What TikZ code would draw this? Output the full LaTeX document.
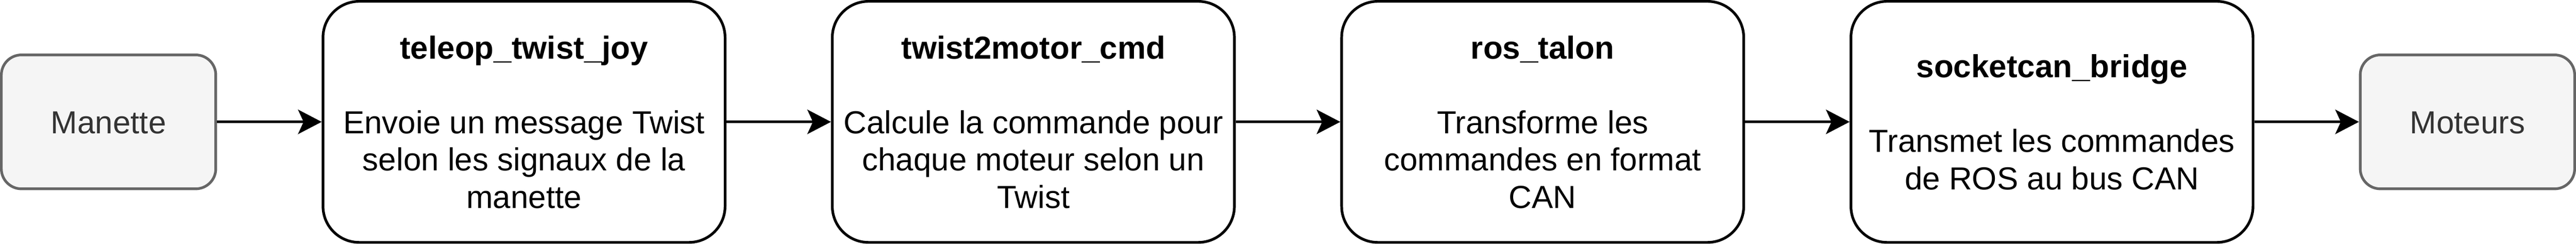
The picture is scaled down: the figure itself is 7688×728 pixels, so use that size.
\documentclass[tikz,border=0pt]{standalone}
\usepackage{fontspec}
\setmainfont{Liberation Sans}
\usetikzlibrary{arrows.meta}
\definecolor{boxfill}{HTML}{F5F5F5}
\definecolor{boxline}{HTML}{666666}
\definecolor{boxtext}{HTML}{333333}
\newcommand\LS{\rule[-5.3pt]{0pt}{27.9pt}}
\tikzset{
  txt/.style={font=\fontsize{23.8pt}{27.9pt}\selectfont, align=center, inner sep=0pt},
  procbox/.style={txt, draw=black, fill=white, line width=2pt, rounded corners=27pt,
    minimum width=300pt, minimum height=180pt},
  endbox/.style={txt, draw=boxline, fill=boxfill, text=boxtext, line width=2pt,
    rounded corners=15pt, minimum width=160pt, minimum height=100pt},
  flow/.style={draw=black, line width=2pt,
    -{Stealth[length=17.75pt, width=18.5pt, inset=4.25pt, line width=0pt]}}
}
\begin{document}
\begin{tikzpicture}[x=0.25pt, y=-0.25pt]
\useasboundingbox (0,0) rectangle (7688,728);
\node[endbox] (manette) at (324,364) {\LS Manette};
\node[procbox] (teleop) at (1564,364)
  {\LS\textbf{teleop\_twist\_joy}\\ \LS\\ \LS Envoie un message Twist\\ \LS selon les signaux de la\\ \LS manette};
\node[procbox] (twist) at (3084,364)
  {\LS\textbf{twist2motor\_cmd}\\ \LS\\ \LS Calcule la commande pour\\ \LS chaque moteur selon un\\ \LS Twist};
\node[procbox] (talon) at (4604,364)
  {\LS\textbf{ros\_talon}\\ \LS\\ \LS Transforme les\\ \LS commandes en format\\ \LS CAN};
\node[procbox] (bridge) at (6124,364)
  {\LS\textbf{socketcan\_bridge}\\ \LS\\ \LS Transmet les commandes\\ \LS de ROS au bus CAN};
\node[endbox] (moteurs) at (7364,364) {\LS Moteurs};
\draw[flow] (manette) -- (teleop);
\draw[flow] (teleop) -- (twist);
\draw[flow] (twist) -- (talon);
\draw[flow] (talon) -- (bridge);
\draw[flow] (bridge) -- (moteurs);
\end{tikzpicture}
\end{document}
